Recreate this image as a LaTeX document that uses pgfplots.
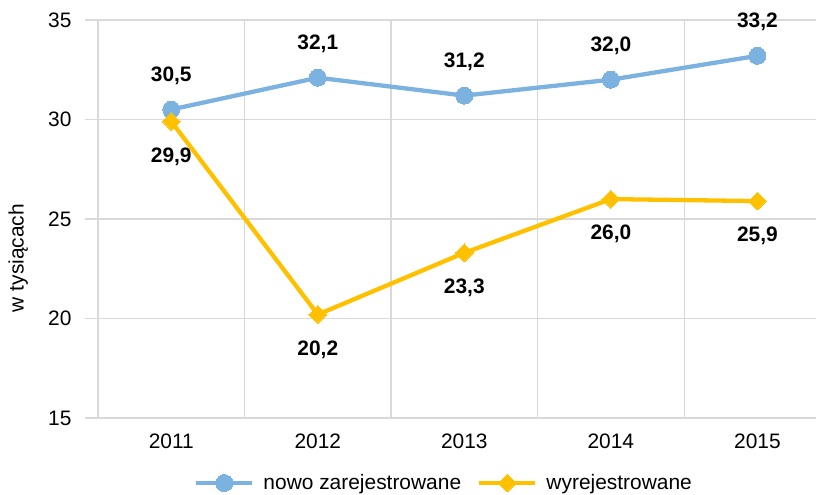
\documentclass[border=0pt]{standalone}
\usepackage{pgfplots}
\pgfplotsset{compat=1.18}
\usepackage{fontspec}
\setmainfont{Liberation Sans}
\definecolor{blueS}{RGB}{124,178,224}
\definecolor{yellowS}{RGB}{255,192,0}
\definecolor{gridc}{RGB}{217,217,217}
\newcommand{\fs}{\fontsize{21}{25}\selectfont}
\begin{document}
\begin{tikzpicture}[x=1bp,y=1bp]
\path[use as bounding box] (0,0) rectangle (816,495);
\begin{axis}[
  at={(98bp,77bp)}, anchor=south west,
  width=718bp, height=398bp, scale only axis,
  xmin=-0.5, xmax=4.4, ymin=15, ymax=35,
  clip=false,
  axis line style={draw=none},
  /pgf/number format/assume math mode=true,
  ticklabel style={font=\fs, text=black},
  xtick={0,1,2,3,4},
  xticklabels={2011,2012,2013,2014,2015},
  major x tick style={draw=none},
  extra x ticks={-0.5,0.5,1.5,2.5,3.5},
  extra x tick labels={},
  extra x tick style={grid=major, major tick length=5bp, tick align=outside,
     major tick style={draw=gridc, line width=1.2bp}},
  ytick={15,20,25,30,35},
  ymajorgrids,
  tick align=outside,
  major tick length=13bp,
  major y tick style={draw=gridc, line width=1.2bp},
  grid style={draw=gridc, line width=1.2bp},
  xticklabel style={yshift=1bp},
  yticklabel style={xshift=-10bp},
  ylabel={w tysiącach},
  ylabel style={font=\fs, at={(axis description cs:-0.111,0.402)}, anchor=center, rotate=0},
  legend style={at={(346bp,-65bp)}, anchor=center, draw=none, font=\fs,
     legend columns=2,
     /tikz/every odd column/.append style={column sep=7bp},
     /tikz/every even column/.append style={column sep=14bp}},
  legend cell align=left,
  legend image code/.code={
    \draw[mark repeat=2,mark phase=2,#1] plot coordinates {(0bp,0bp) (28bp,0bp) (56bp,0bp)};
  },
  nodes near coords,
  point meta=explicit symbolic,
  every node near coord/.append style={font=\fs\bfseries, text=black, anchor=center},
]
\addplot[color=blueS, line width=4.3bp, mark=*, mark size=8.5bp,
  mark options={fill=blueS, draw=blueS, line width=0bp},
  every node near coord/.append style={yshift=34bp}]
  coordinates {(0,30.5) [30,5] (1,32.1) [32,1] (2,31.2) [31,2] (3,32.0) [32,0] (4,33.2) [33,2]};
\addlegendentry{nowo zarejestrowane}
\addplot[color=yellowS, line width=4.3bp, mark=square*, mark size=6.3bp,
  mark options={fill=yellowS, draw=yellowS, line width=0bp, rotate=45},
  every node near coord/.append style={yshift=-35bp}]
  coordinates {(0,29.9) [29,9] (1,20.2) [20,2] (2,23.3) [23,3] (3,26.0) [26,0] (4,25.9) [25,9]};
\addlegendentry{wyrejestrowane}
\end{axis}
\end{tikzpicture}
\end{document}
